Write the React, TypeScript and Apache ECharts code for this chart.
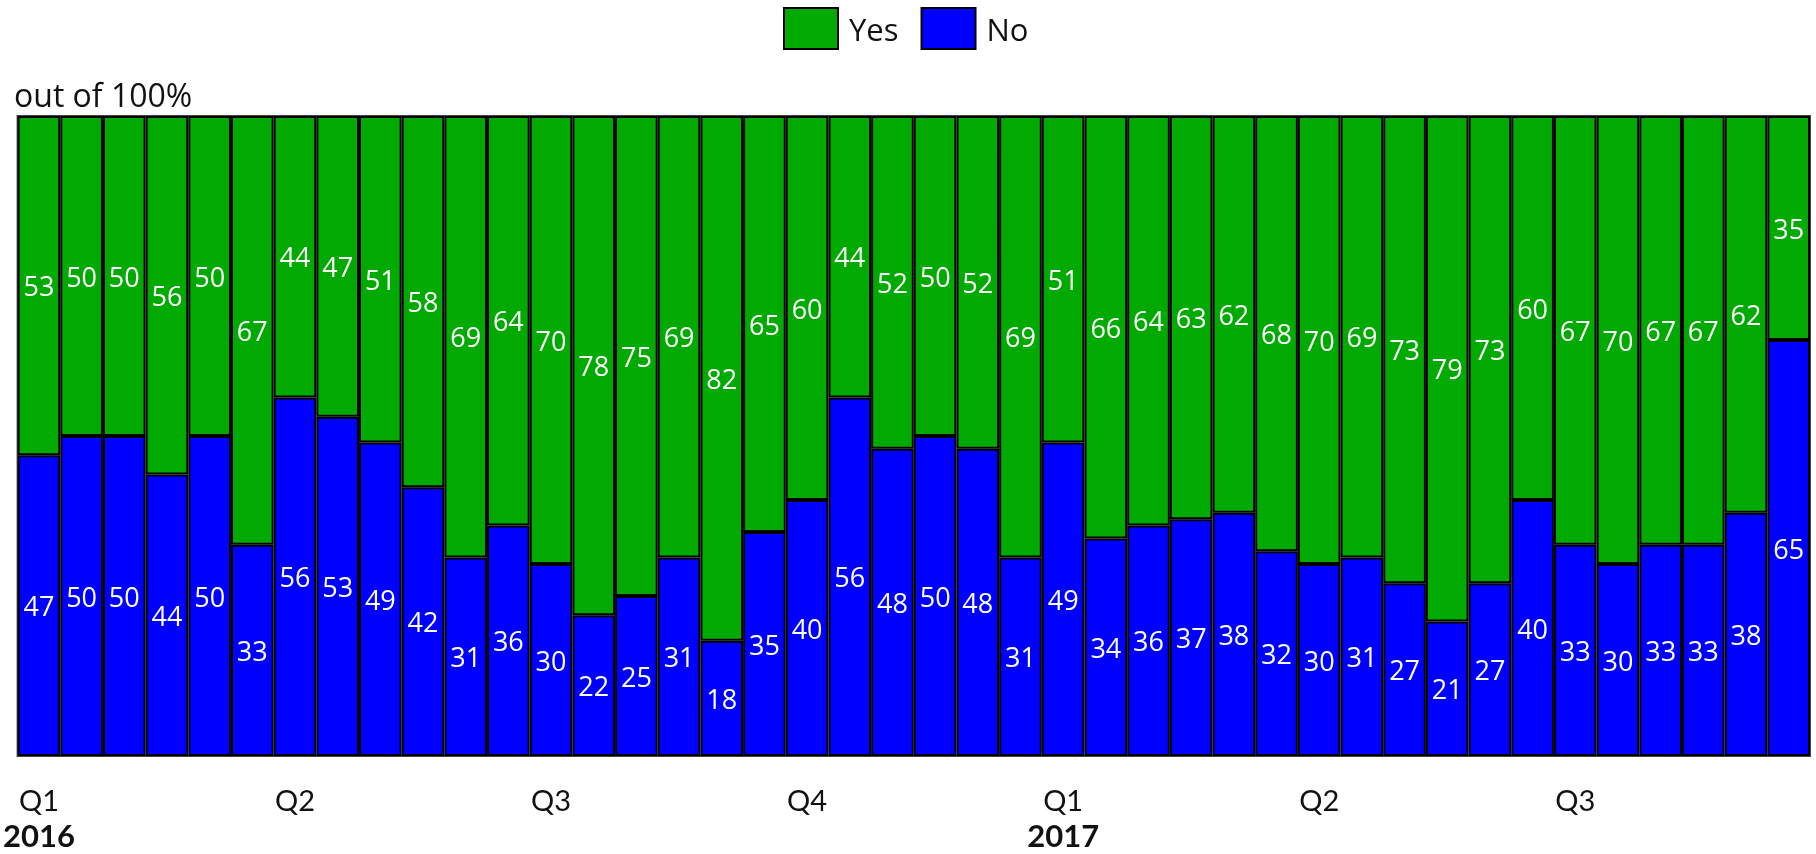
import React, { useEffect, useRef } from "react";
import * as echarts from "echarts";

const periods = [
  "2016-01a", "2016-01b", "2016-02a", "2016-02b", "2016-03a", "2016-03b",
  "2016-04a", "2016-04b", "2016-05a", "2016-05b", "2016-06a", "2016-06b",
  "2016-07a", "2016-07b", "2016-08a", "2016-08b", "2016-09a", "2016-09b",
  "2016-10a", "2016-10b", "2016-11a", "2016-11b", "2016-12a", "2016-12b",
  "2017-01a", "2017-01b", "2017-02a", "2017-02b", "2017-03a", "2017-03b",
  "2017-04a", "2017-04b", "2017-05a", "2017-05b", "2017-06a", "2017-06b",
  "2017-07a", "2017-07b", "2017-08a", "2017-08b", "2017-09a", "2017-09b",
];

const yesValues = [
  53, 50, 50, 56, 50, 67, 44, 47, 51, 58, 69, 64, 70, 78, 75, 69, 82, 65, 60, 44, 52,
  50, 52, 69, 51, 66, 64, 63, 62, 68, 70, 69, 73, 79, 73, 60, 67, 70, 67, 67, 62, 35,
];

const noValues = [
  47, 50, 50, 44, 50, 33, 56, 53, 49, 42, 31, 36, 30, 22, 25, 31, 18, 35, 40, 56, 48,
  50, 48, 31, 49, 34, 36, 37, 38, 32, 30, 31, 27, 21, 27, 40, 33, 30, 33, 33, 38, 65,
];

const quarterStartMonths: Record<string, string> = { "01": "Q1", "04": "Q2", "07": "Q3", "10": "Q4" };

const FONT = "Open Sans";
const AXIS_FONT = "Lato";

export default function App() {
  const ref = useRef<HTMLDivElement>(null);

  useEffect(() => {
    if (!ref.current) return;
    const chart = echarts.init(ref.current, undefined, { renderer: "svg" });
    chart.setOption({
      animation: false,
      textStyle: { fontFamily: FONT },
      legend: {
        data: ["Yes", "No"],
        icon: "rect",
        left: 783,
        top: 7,
        padding: 0,
        itemWidth: 54,
        itemHeight: 41,
        itemGap: 22,
        textStyle: { fontSize: 31, color: "#111", fontFamily: FONT, padding: [0, 0, 0, 6] },
      },
      graphic: [
        {
          type: "text",
          left: 14,
          top: 78,
          style: { text: "out of 100%", fontSize: 32, fontFamily: FONT, fill: "#111" },
        },
      ],
      grid: {
        left: 15,
        right: 6,
        top: 116,
        bottom: 98,
        show: true,
        borderColor: "#444",
        borderWidth: 2,
        containLabel: false,
      },
      xAxis: {
        type: "category",
        data: periods,
        axisLine: { show: false },
        axisTick: { show: false },
        axisLabel: {
          interval: 0,
          margin: 26,
          formatter: (val: string) => {
            const year = val.slice(0, 4);
            const month = val.slice(5, 7);
            const half = val.slice(7);
            const q = quarterStartMonths[month];
            if (!q || half !== "a") return "";
            if (month === "01") return `{q|${q}}\n{y|${year}}`;
            return `{q|${q}}`;
          },
          rich: {
            q: { fontSize: 29, fontFamily: AXIS_FONT, color: "#111", lineHeight: 34 },
            y: { fontSize: 31, fontFamily: AXIS_FONT, fontWeight: "bold", color: "#111", lineHeight: 38 },
          },
        },
      },
      yAxis: {
        type: "value",
        min: 0,
        max: 100,
        show: false,
        splitLine: { show: false },
      },
      series: [
        {
          name: "No",
          type: "bar",
          stack: "total",
          data: noValues,
          barCategoryGap: 0,
          itemStyle: { color: "#0000FF", borderColor: "#000", borderWidth: 2 },
          label: { show: true, position: "inside", color: "#fff", fontSize: 27, fontFamily: FONT },
        },
        {
          name: "Yes",
          type: "bar",
          stack: "total",
          data: yesValues,
          barCategoryGap: 0,
          itemStyle: { color: "#00AA00", borderColor: "#000", borderWidth: 2 },
          label: { show: true, position: "inside", color: "#fff", fontSize: 27, fontFamily: FONT },
        },
      ],
    });
    return () => chart.dispose();
  }, []);

  return <div ref={ref} style={{ position: "fixed", left: 0, top: 0, width: 1816, height: 854 }} />;
}
